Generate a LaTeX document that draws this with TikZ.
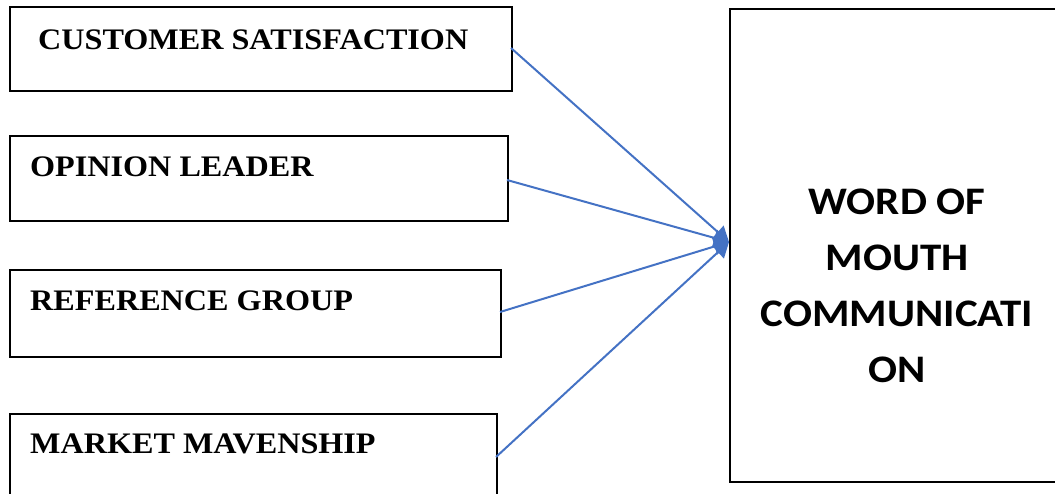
\documentclass[tikz,border=0pt]{standalone}
\usepackage{fontspec}
\setmainfont{Liberation Serif}
\newfontfamily\calib{Carlito}
\usetikzlibrary{arrows.meta}
\definecolor{lineblue}{HTML}{4472C4}
\newcommand{\wtext}[1]{\scalebox{1.08}[1]{#1}}
\newcommand{\rtext}[1]{\scalebox{1.1}[1]{#1}}
\begin{document}
\begin{tikzpicture}[x=1pt,y=-1pt,
  leftbox/.style={draw=black,line width=1.6pt},
  lefttext/.style={anchor=base west,inner sep=0pt,font=\fontsize{29.8}{34}\selectfont\bfseries},
  conn/.style={draw=lineblue,line width=2pt,-{Triangle[length=15pt,width=17pt]}}]
\useasboundingbox (0,0) rectangle (1055,493);
\clip (0,0) rectangle (1055,493);
\node[leftbox,minimum width=502pt,minimum height=84pt,anchor=north west,inner sep=0pt] (b1) at (9,6) {};
\node[leftbox,minimum width=498pt,minimum height=85pt,anchor=north west,inner sep=0pt] (b2) at (9,135) {};
\node[leftbox,minimum width=491pt,minimum height=87pt,anchor=north west,inner sep=0pt] (b3) at (9,269) {};
\node[leftbox,minimum width=487pt,minimum height=120pt,anchor=north west,inner sep=0pt] (b4) at (9,413) {};
\node[lefttext] (t1) at (38,49) {\wtext{CUSTOMER SATISFACTION}};
\node[lefttext] (t2) at (30,176) {\wtext{OPINION LEADER}};
\node[lefttext] (t3) at (30,310) {\wtext{REFERENCE GROUP}};
\node[lefttext] (t4) at (30,453) {\wtext{MARKET MAVENSHIP}};
\node[leftbox,minimum width=360pt,minimum height=473pt,anchor=north west,inner sep=0pt] (w) at (729,8) {};
\node[align=center,inner sep=0pt,font=\calib\fontsize{39}{56}\selectfont\bfseries] (wt) at (897,286) {\rtext{WORD OF}\\\rtext{MOUTH}\\\rtext{COMMUNICATI}\\\rtext{ON}};
\coordinate (tip) at (729,242);
\coordinate (s1) at (511,48);
\coordinate (s2) at (507,180);
\coordinate (s3) at (500,312);
\coordinate (s4) at (496,457);
\draw[conn] (s1) -- (tip);
\draw[conn] (s2) -- (tip);
\draw[conn] (s3) -- (tip);
\draw[conn] (s4) -- (tip);
\end{tikzpicture}
\end{document}
